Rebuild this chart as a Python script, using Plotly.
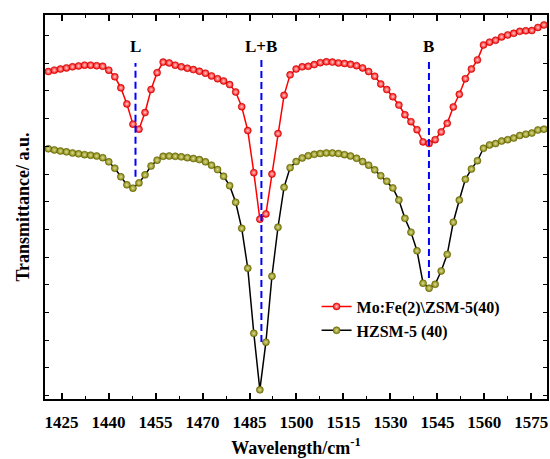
import plotly.graph_objects as go

wavenumber = [1420.76, 1422.69, 1424.62, 1426.55, 1428.48, 1430.41, 1432.34, 1434.27, 1436.20, 1438.13,
              1440.06, 1441.99, 1443.92, 1445.85, 1447.78, 1449.71, 1451.64, 1453.57, 1455.50, 1457.43,
              1459.36, 1461.29, 1463.22, 1465.15, 1467.08, 1469.01, 1470.94, 1472.87, 1474.80, 1476.73,
              1478.66, 1480.59, 1482.52, 1484.45, 1486.38, 1488.31, 1490.24, 1492.17, 1494.10, 1496.03,
              1497.96, 1499.89, 1501.82, 1503.75, 1505.68, 1507.61, 1509.54, 1511.47, 1513.40, 1515.33,
              1517.26, 1519.19, 1521.12, 1523.05, 1524.98, 1526.91, 1528.84, 1530.77, 1532.70, 1534.63,
              1536.56, 1538.49, 1540.42, 1542.35, 1544.28, 1546.21, 1548.14, 1550.07, 1552.00, 1553.93,
              1555.86, 1557.79, 1559.72, 1561.65, 1563.58, 1565.51, 1567.44, 1569.37, 1571.30, 1573.23,
              1575.16, 1577.09, 1579.02]

mofe_zsm5 = [11.70, 11.75, 11.79, 11.83, 11.87, 11.90, 11.93, 11.93, 11.91, 11.89,
             11.75, 11.51, 11.11, 10.53, 9.80, 9.62, 10.22, 11.05, 11.66, 12.04,
             12.01, 11.93, 11.87, 11.82, 11.77, 11.71, 11.64, 11.54, 11.44, 11.36,
             11.23, 10.96, 10.43, 9.57, 8.05, 6.37, 6.56, 8.00, 9.46, 10.84,
             11.58, 11.79, 11.87, 11.89, 11.95, 12.02, 12.05, 12.04, 12.01, 11.99,
             11.96, 11.91, 11.83, 11.70, 11.53, 11.25, 11.05, 10.79, 10.49, 10.14,
             9.89, 9.60, 9.16, 9.10, 9.24, 9.52, 9.83, 10.42, 10.88, 11.44,
             11.79, 12.12, 12.66, 12.76, 12.83, 12.95, 13.02, 13.08, 13.15, 13.17,
             13.18, 13.29, 13.38]

hzsm5 = [8.91, 8.87, 8.83, 8.80, 8.76, 8.73, 8.70, 8.68, 8.65, 8.59,
         8.44, 8.21, 7.90, 7.61, 7.49, 7.68, 7.97, 8.29, 8.50, 8.64,
         8.65, 8.64, 8.62, 8.59, 8.56, 8.52, 8.44, 8.32, 8.16, 7.92,
         7.58, 6.98, 6.04, 4.60, 2.25, 0.21, 1.93, 4.31, 6.08, 7.52,
         8.23, 8.45, 8.58, 8.66, 8.71, 8.74, 8.76, 8.76, 8.74, 8.70,
         8.65, 8.57, 8.45, 8.32, 8.15, 7.94, 7.74, 7.50, 7.06, 6.40,
         5.90, 5.23, 4.06, 3.88, 4.02, 4.50, 5.10, 6.26, 7.06, 7.81,
         8.18, 8.48, 8.93, 9.05, 9.10, 9.19, 9.24, 9.30, 9.39, 9.44,
         9.48, 9.59, 9.62]

peak_labels = ["L", "L+B", "B"]
peak_x = [1448.6, 1488.8, 1542.3]
peak_line_top = [12.01, 12.12, 12.04]
peak_line_bottom = [7.90, 1.94, 4.25]
peak_label_y = 12.59

x_ticks = [1425, 1440, 1455, 1470, 1485, 1500, 1515, 1530, 1545, 1560, 1575]

FONT = "Liberation Serif"

fig = go.Figure()

fig.add_trace(go.Scatter(
    x=wavenumber, y=mofe_zsm5, mode="lines+markers",
    name="Mo:Fe(2)\\ZSM-5(40)",
    line=dict(color="#ff0000", width=1.5),
    marker=dict(size=7, color="#ff0000",
                gradient=dict(type="radial", color="#ffd0d0"),
                line=dict(width=0.5, color="#b00000")),
))
fig.add_trace(go.Scatter(
    x=wavenumber, y=hzsm5, mode="lines+markers",
    name="HZSM-5 (40)",
    line=dict(color="#000000", width=1.5),
    marker=dict(size=7, color="#808000",
                gradient=dict(type="radial", color="#dcdc98"),
                line=dict(width=0.5, color="#505000")),
))

for lbl, px, top, bot in zip(peak_labels, peak_x, peak_line_top, peak_line_bottom):
    fig.add_shape(type="line", x0=px, x1=px, y0=bot, y1=top, xref="x", yref="y",
                  line=dict(color="#0000ff", width=2, dash="7px,4px"))
    fig.add_annotation(x=px, y=peak_label_y, text=lbl, showarrow=False,
                       xanchor="center", yanchor="middle",
                       font=dict(family=FONT, size=17, color="black", weight="bold"))

fig.update_layout(
    width=550, height=459,
    margin=dict(l=45, r=3, t=15, b=60, autoexpand=False),
    paper_bgcolor="white", plot_bgcolor="white",
    font=dict(family=FONT, size=16, color="black"),
    showlegend=True,
    legend=dict(x=0.541, y=0.285, xanchor="left", yanchor="top",
                bgcolor="rgba(0,0,0,0)", font=dict(family=FONT, size=16, weight="bold"),
                tracegroupgap=0),
)

fig.update_xaxes(
    range=[1419.7, 1580.0], tickvals=x_ticks, automargin=False,
    ticks="inside", ticklen=6, tickwidth=1.5, tickcolor="black",
    ticklabelstandoff=7,
    minor=dict(ticks="inside", ticklen=3, tickwidth=1.2, tickcolor="black", dtick=7.5, tick0=1425),
    showline=True, linewidth=2, linecolor="black", mirror="ticks",
    showgrid=False, zeroline=False,
    tickfont=dict(family=FONT, size=17, weight="bold"),
    title=dict(text="Wavelength/cm<sup>-1</sup>", standoff=10,
               font=dict(family=FONT, size=18, weight="bold")),
)
fig.update_yaxes(
    range=[-0.12, 13.74], tick0=0, dtick=1, automargin=False,
    ticks="inside", ticklen=4, tickwidth=1.2, tickcolor="black",
    showticklabels=False,
    showline=True, linewidth=2, linecolor="black", mirror="ticks",
    showgrid=False, zeroline=False,
    title=dict(text="Transmittance/ a.u.", standoff=9,
               font=dict(family=FONT, size=18, weight="bold")),
)

fig.write_html("out.html", config={"displayModeBar": False},
               post_script="document.body.style.margin='0px';")
